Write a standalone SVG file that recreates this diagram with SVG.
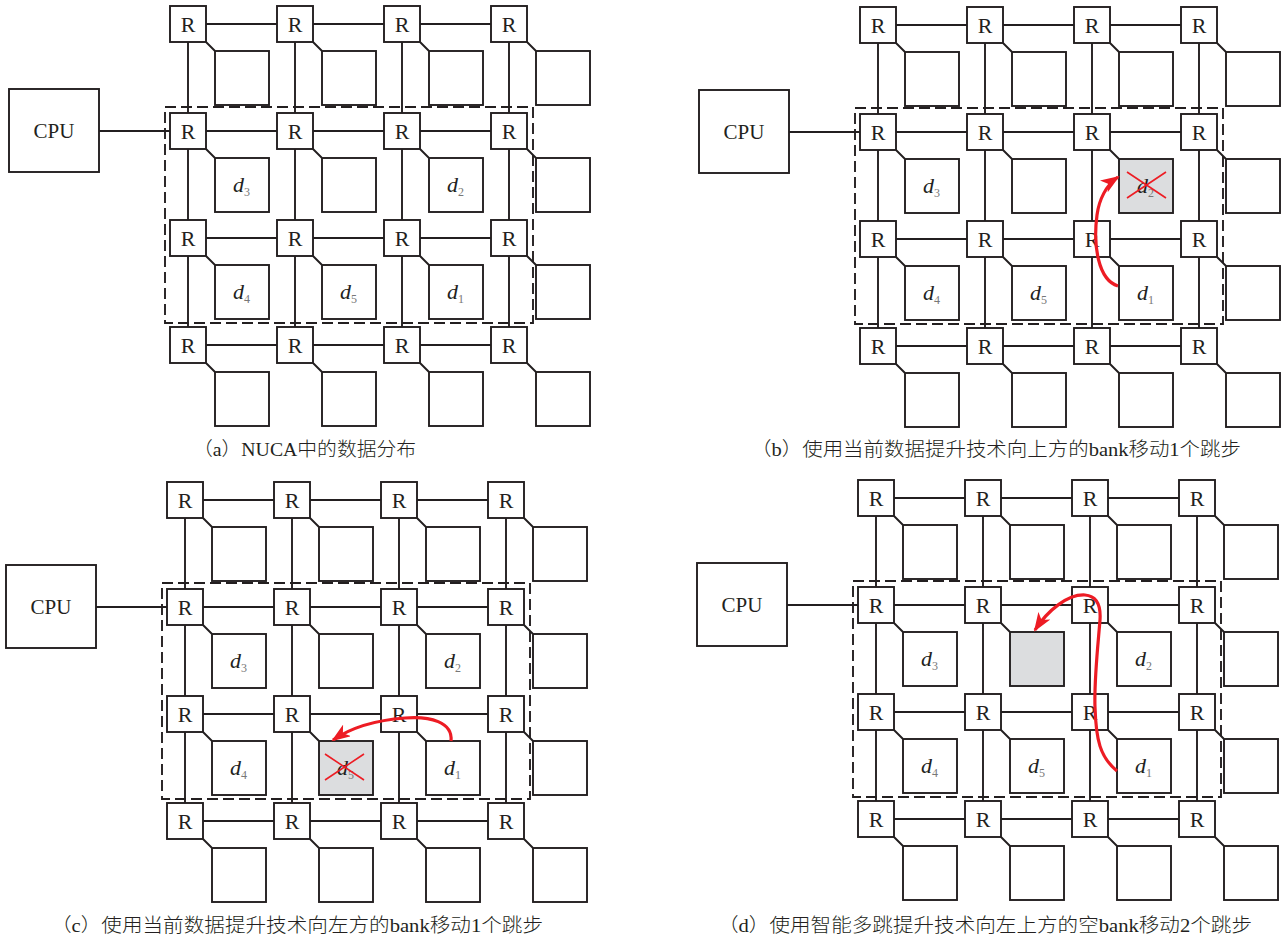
<svg xmlns="http://www.w3.org/2000/svg" width="1286" height="939" viewBox="0 0 1286 939">
<style>
.ln{stroke:#231F20;stroke-width:1.9;fill:none}
.r{fill:#fff;stroke:#231F20;stroke-width:1.9}
.b{fill:#fff;stroke:#231F20;stroke-width:1.9}
.g{fill:#DCDDDF;stroke:#231F20;stroke-width:1.9}
.dash{fill:none;stroke:#231F20;stroke-width:1.9;stroke-dasharray:11,5}
.rt{font-family:"Liberation Serif",serif;font-size:22px;text-anchor:middle;fill:#231F20}
.cpu{font-family:"Liberation Serif",serif;font-size:21px;text-anchor:middle;fill:#231F20}
.dl{font-family:"Liberation Serif",serif;font-style:italic;font-size:22px;fill:#231F20}
.sub{font-style:normal;font-size:12px;fill:#777}
.cap{font-family:"Liberation Serif","Noto Sans CJK SC",serif;font-size:19px;font-weight:300;fill:#231F20}
.arr{fill:none;stroke:#ED1C24;stroke-width:3.2;marker-end:url(#ah)}
.x{stroke:#ED1C24;stroke-width:1.6}
</style>
<defs>
<marker id="ah" markerUnits="userSpaceOnUse" markerWidth="20" markerHeight="14" refX="17" refY="7" orient="auto">
<path d="M0,0 L19,7 L0,14 L5,7 Z" fill="#ED1C24"/>
</marker>
</defs>
<rect width="1286" height="939" fill="#fff"/>

<g id="connectors">
<path class="ln" d="M188,24V345 M295,24V345 M402,24V345 M509,24V345 M188,24H509 M188,131H509 M188,238H509 M188,345H509 M99,131H170
M206,42L215,51 M313,42L322,51 M420,42L429,51 M527,42L536,51 M206,149L215,158 M313,149L322,158 M420,149L429,158 M527,149L536,158 M206,256L215,265 M313,256L322,265 M420,256L429,265 M527,256L536,265 M206,363L215,372 M313,363L322,372 M420,363L429,372 M527,363L536,372"/>
<path class="ln" d="M878,25V346 M985,25V346 M1092,25V346 M1199,25V346 M878,25H1199 M878,132H1199 M878,239H1199 M878,346H1199 M789,132H860
M896,43L905,52 M1003,43L1012,52 M1110,43L1119,52 M1217,43L1226,52 M896,150L905,159 M1003,150L1012,159 M1110,150L1119,159 M1217,150L1226,159 M896,257L905,266 M1003,257L1012,266 M1110,257L1119,266 M1217,257L1226,266 M896,364L905,373 M1003,364L1012,373 M1110,364L1119,373 M1217,364L1226,373"/>
<path class="ln" d="M185,500V821 M292,500V821 M399,500V821 M506,500V821 M185,500H506 M185,607H506 M185,714H506 M185,821H506 M96,607H167
M203,518L212,527 M310,518L319,527 M417,518L426,527 M524,518L533,527 M203,625L212,634 M310,625L319,634 M417,625L426,634 M524,625L533,634 M203,732L212,741 M310,732L319,741 M417,732L426,741 M524,732L533,741 M203,839L212,848 M310,839L319,848 M417,839L426,848 M524,839L533,848"/>
<path class="ln" d="M876,498V819 M983,498V819 M1090,498V819 M1197,498V819 M876,498H1197 M876,605H1197 M876,712H1197 M876,819H1197 M787,605H858
M894,516L903,525 M1001,516L1010,525 M1108,516L1117,525 M1215,516L1224,525 M894,623L903,632 M1001,623L1010,632 M1108,623L1117,632 M1215,623L1224,632 M894,730L903,739 M1001,730L1010,739 M1108,730L1117,739 M1215,730L1224,739 M894,837L903,846 M1001,837L1010,846 M1108,837L1117,846 M1215,837L1224,846"/>
</g>

<!-- Panel A -->
<g id="a-region"><rect class="dash" x="165" y="107" width="368" height="216"/></g>
<g id="a-cpu"><rect class="r" x="9" y="89" width="90" height="83"/><text class="cpu" x="54" y="138">CPU</text></g>
<g id="a-r11"><rect class="r" x="170" y="6" width="36" height="36"/><text class="rt" x="188" y="31.5">R</text></g>
<g id="a-r12"><rect class="r" x="277" y="6" width="36" height="36"/><text class="rt" x="295" y="31.5">R</text></g>
<g id="a-r13"><rect class="r" x="384" y="6" width="36" height="36"/><text class="rt" x="402" y="31.5">R</text></g>
<g id="a-r14"><rect class="r" x="491" y="6" width="36" height="36"/><text class="rt" x="509" y="31.5">R</text></g>
<g id="a-r21"><rect class="r" x="170" y="113" width="36" height="36"/><text class="rt" x="188" y="138.5">R</text></g>
<g id="a-r22"><rect class="r" x="277" y="113" width="36" height="36"/><text class="rt" x="295" y="138.5">R</text></g>
<g id="a-r23"><rect class="r" x="384" y="113" width="36" height="36"/><text class="rt" x="402" y="138.5">R</text></g>
<g id="a-r24"><rect class="r" x="491" y="113" width="36" height="36"/><text class="rt" x="509" y="138.5">R</text></g>
<g id="a-r31"><rect class="r" x="170" y="220" width="36" height="36"/><text class="rt" x="188" y="245.5">R</text></g>
<g id="a-r32"><rect class="r" x="277" y="220" width="36" height="36"/><text class="rt" x="295" y="245.5">R</text></g>
<g id="a-r33"><rect class="r" x="384" y="220" width="36" height="36"/><text class="rt" x="402" y="245.5">R</text></g>
<g id="a-r34"><rect class="r" x="491" y="220" width="36" height="36"/><text class="rt" x="509" y="245.5">R</text></g>
<g id="a-r41"><rect class="r" x="170" y="327" width="36" height="36"/><text class="rt" x="188" y="352.5">R</text></g>
<g id="a-r42"><rect class="r" x="277" y="327" width="36" height="36"/><text class="rt" x="295" y="352.5">R</text></g>
<g id="a-r43"><rect class="r" x="384" y="327" width="36" height="36"/><text class="rt" x="402" y="352.5">R</text></g>
<g id="a-r44"><rect class="r" x="491" y="327" width="36" height="36"/><text class="rt" x="509" y="352.5">R</text></g>
<g id="a-b11"><rect class="b" x="215" y="51" width="54" height="54"/></g>
<g id="a-b12"><rect class="b" x="322" y="51" width="54" height="54"/></g>
<g id="a-b13"><rect class="b" x="429" y="51" width="54" height="54"/></g>
<g id="a-b14"><rect class="b" x="536" y="51" width="54" height="54"/></g>
<g id="a-b21"><rect class="b" x="215" y="158" width="54" height="54"/><text class="dl" x="233" y="192">d<tspan class="sub" dy="4">3</tspan></text></g>
<g id="a-b22"><rect class="b" x="322" y="158" width="54" height="54"/></g>
<g id="a-b23"><rect class="b" x="429" y="158" width="54" height="54"/><text class="dl" x="447" y="192">d<tspan class="sub" dy="4">2</tspan></text></g>
<g id="a-b24"><rect class="b" x="536" y="158" width="54" height="54"/></g>
<g id="a-b31"><rect class="b" x="215" y="265" width="54" height="54"/><text class="dl" x="233" y="299">d<tspan class="sub" dy="4">4</tspan></text></g>
<g id="a-b32"><rect class="b" x="322" y="265" width="54" height="54"/><text class="dl" x="340" y="299">d<tspan class="sub" dy="4">5</tspan></text></g>
<g id="a-b33"><rect class="b" x="429" y="265" width="54" height="54"/><text class="dl" x="447" y="299">d<tspan class="sub" dy="4">1</tspan></text></g>
<g id="a-b34"><rect class="b" x="536" y="265" width="54" height="54"/></g>
<g id="a-b41"><rect class="b" x="215" y="372" width="54" height="54"/></g>
<g id="a-b42"><rect class="b" x="322" y="372" width="54" height="54"/></g>
<g id="a-b43"><rect class="b" x="429" y="372" width="54" height="54"/></g>
<g id="a-b44"><rect class="b" x="536" y="372" width="54" height="54"/></g>
<g id="a-caption"><text class="cap" x="193" y="456" textLength="223" lengthAdjust="spacingAndGlyphs">（a）NUCA中的数据分布</text></g>

<!-- Panel B -->
<g id="b-region"><rect class="dash" x="855" y="108" width="368" height="216"/></g>
<g id="b-cpu"><rect class="r" x="699" y="90" width="90" height="83"/><text class="cpu" x="744" y="139">CPU</text></g>
<g id="b-r11"><rect class="r" x="860" y="7" width="36" height="36"/><text class="rt" x="878" y="32.5">R</text></g>
<g id="b-r12"><rect class="r" x="967" y="7" width="36" height="36"/><text class="rt" x="985" y="32.5">R</text></g>
<g id="b-r13"><rect class="r" x="1074" y="7" width="36" height="36"/><text class="rt" x="1092" y="32.5">R</text></g>
<g id="b-r14"><rect class="r" x="1181" y="7" width="36" height="36"/><text class="rt" x="1199" y="32.5">R</text></g>
<g id="b-r21"><rect class="r" x="860" y="114" width="36" height="36"/><text class="rt" x="878" y="139.5">R</text></g>
<g id="b-r22"><rect class="r" x="967" y="114" width="36" height="36"/><text class="rt" x="985" y="139.5">R</text></g>
<g id="b-r23"><rect class="r" x="1074" y="114" width="36" height="36"/><text class="rt" x="1092" y="139.5">R</text></g>
<g id="b-r24"><rect class="r" x="1181" y="114" width="36" height="36"/><text class="rt" x="1199" y="139.5">R</text></g>
<g id="b-r31"><rect class="r" x="860" y="221" width="36" height="36"/><text class="rt" x="878" y="246.5">R</text></g>
<g id="b-r32"><rect class="r" x="967" y="221" width="36" height="36"/><text class="rt" x="985" y="246.5">R</text></g>
<g id="b-r33"><rect class="r" x="1074" y="221" width="36" height="36"/><text class="rt" x="1092" y="246.5">R</text></g>
<g id="b-r34"><rect class="r" x="1181" y="221" width="36" height="36"/><text class="rt" x="1199" y="246.5">R</text></g>
<g id="b-r41"><rect class="r" x="860" y="328" width="36" height="36"/><text class="rt" x="878" y="353.5">R</text></g>
<g id="b-r42"><rect class="r" x="967" y="328" width="36" height="36"/><text class="rt" x="985" y="353.5">R</text></g>
<g id="b-r43"><rect class="r" x="1074" y="328" width="36" height="36"/><text class="rt" x="1092" y="353.5">R</text></g>
<g id="b-r44"><rect class="r" x="1181" y="328" width="36" height="36"/><text class="rt" x="1199" y="353.5">R</text></g>
<g id="b-b11"><rect class="b" x="905" y="52" width="54" height="54"/></g>
<g id="b-b12"><rect class="b" x="1012" y="52" width="54" height="54"/></g>
<g id="b-b13"><rect class="b" x="1119" y="52" width="54" height="54"/></g>
<g id="b-b14"><rect class="b" x="1226" y="52" width="54" height="54"/></g>
<g id="b-b21"><rect class="b" x="905" y="159" width="54" height="54"/><text class="dl" x="923" y="193">d<tspan class="sub" dy="4">3</tspan></text></g>
<g id="b-b22"><rect class="b" x="1012" y="159" width="54" height="54"/></g>
<g id="b-b23"><rect class="g" x="1119" y="159" width="54" height="54"/><text class="dl" x="1137" y="193">d<tspan class="sub" dy="4">2</tspan></text><path class="x" d="M1127,172L1166,198 M1127,198L1166,172"/></g>
<g id="b-b24"><rect class="b" x="1226" y="159" width="54" height="54"/></g>
<g id="b-b31"><rect class="b" x="905" y="266" width="54" height="54"/><text class="dl" x="923" y="300">d<tspan class="sub" dy="4">4</tspan></text></g>
<g id="b-b32"><rect class="b" x="1012" y="266" width="54" height="54"/><text class="dl" x="1030" y="300">d<tspan class="sub" dy="4">5</tspan></text></g>
<g id="b-b33"><rect class="b" x="1119" y="266" width="54" height="54"/><text class="dl" x="1137" y="300">d<tspan class="sub" dy="4">1</tspan></text></g>
<g id="b-b34"><rect class="b" x="1226" y="266" width="54" height="54"/></g>
<g id="b-b41"><rect class="b" x="905" y="373" width="54" height="54"/></g>
<g id="b-b42"><rect class="b" x="1012" y="373" width="54" height="54"/></g>
<g id="b-b43"><rect class="b" x="1119" y="373" width="54" height="54"/></g>
<g id="b-b44"><rect class="b" x="1226" y="373" width="54" height="54"/></g>
<g id="b-caption"><text class="cap" x="751" y="456" textLength="490" lengthAdjust="spacingAndGlyphs">（b）使用当前数据提升技术向上方的bank移动1个跳步</text></g>

<!-- Panel C -->
<g id="c-region"><rect class="dash" x="162" y="583" width="368" height="216"/></g>
<g id="c-cpu"><rect class="r" x="6" y="565" width="90" height="83"/><text class="cpu" x="51" y="614">CPU</text></g>
<g id="c-r11"><rect class="r" x="167" y="482" width="36" height="36"/><text class="rt" x="185" y="507.5">R</text></g>
<g id="c-r12"><rect class="r" x="274" y="482" width="36" height="36"/><text class="rt" x="292" y="507.5">R</text></g>
<g id="c-r13"><rect class="r" x="381" y="482" width="36" height="36"/><text class="rt" x="399" y="507.5">R</text></g>
<g id="c-r14"><rect class="r" x="488" y="482" width="36" height="36"/><text class="rt" x="506" y="507.5">R</text></g>
<g id="c-r21"><rect class="r" x="167" y="589" width="36" height="36"/><text class="rt" x="185" y="614.5">R</text></g>
<g id="c-r22"><rect class="r" x="274" y="589" width="36" height="36"/><text class="rt" x="292" y="614.5">R</text></g>
<g id="c-r23"><rect class="r" x="381" y="589" width="36" height="36"/><text class="rt" x="399" y="614.5">R</text></g>
<g id="c-r24"><rect class="r" x="488" y="589" width="36" height="36"/><text class="rt" x="506" y="614.5">R</text></g>
<g id="c-r31"><rect class="r" x="167" y="696" width="36" height="36"/><text class="rt" x="185" y="721.5">R</text></g>
<g id="c-r32"><rect class="r" x="274" y="696" width="36" height="36"/><text class="rt" x="292" y="721.5">R</text></g>
<g id="c-r33"><rect class="r" x="381" y="696" width="36" height="36"/><text class="rt" x="399" y="721.5">R</text></g>
<g id="c-r34"><rect class="r" x="488" y="696" width="36" height="36"/><text class="rt" x="506" y="721.5">R</text></g>
<g id="c-r41"><rect class="r" x="167" y="803" width="36" height="36"/><text class="rt" x="185" y="828.5">R</text></g>
<g id="c-r42"><rect class="r" x="274" y="803" width="36" height="36"/><text class="rt" x="292" y="828.5">R</text></g>
<g id="c-r43"><rect class="r" x="381" y="803" width="36" height="36"/><text class="rt" x="399" y="828.5">R</text></g>
<g id="c-r44"><rect class="r" x="488" y="803" width="36" height="36"/><text class="rt" x="506" y="828.5">R</text></g>
<g id="c-b11"><rect class="b" x="212" y="527" width="54" height="54"/></g>
<g id="c-b12"><rect class="b" x="319" y="527" width="54" height="54"/></g>
<g id="c-b13"><rect class="b" x="426" y="527" width="54" height="54"/></g>
<g id="c-b14"><rect class="b" x="533" y="527" width="54" height="54"/></g>
<g id="c-b21"><rect class="b" x="212" y="634" width="54" height="54"/><text class="dl" x="230" y="668">d<tspan class="sub" dy="4">3</tspan></text></g>
<g id="c-b22"><rect class="b" x="319" y="634" width="54" height="54"/></g>
<g id="c-b23"><rect class="b" x="426" y="634" width="54" height="54"/><text class="dl" x="444" y="668">d<tspan class="sub" dy="4">2</tspan></text></g>
<g id="c-b24"><rect class="b" x="533" y="634" width="54" height="54"/></g>
<g id="c-b31"><rect class="b" x="212" y="741" width="54" height="54"/><text class="dl" x="230" y="775">d<tspan class="sub" dy="4">4</tspan></text></g>
<g id="c-b32"><rect class="g" x="319" y="741" width="54" height="54"/><text class="dl" x="337" y="775">d<tspan class="sub" dy="4">5</tspan></text><path class="x" d="M325,754L364,780 M325,780L364,754"/></g>
<g id="c-b33"><rect class="b" x="426" y="741" width="54" height="54"/><text class="dl" x="444" y="775">d<tspan class="sub" dy="4">1</tspan></text></g>
<g id="c-b34"><rect class="b" x="533" y="741" width="54" height="54"/></g>
<g id="c-b41"><rect class="b" x="212" y="848" width="54" height="54"/></g>
<g id="c-b42"><rect class="b" x="319" y="848" width="54" height="54"/></g>
<g id="c-b43"><rect class="b" x="426" y="848" width="54" height="54"/></g>
<g id="c-b44"><rect class="b" x="533" y="848" width="54" height="54"/></g>
<g id="c-caption"><text class="cap" x="51" y="932" textLength="492" lengthAdjust="spacingAndGlyphs">（c）使用当前数据提升技术向左方的bank移动1个跳步</text></g>

<!-- Panel D -->
<g id="d-region"><rect class="dash" x="853" y="581" width="368" height="216"/></g>
<g id="d-cpu"><rect class="r" x="697" y="563" width="90" height="83"/><text class="cpu" x="742" y="612">CPU</text></g>
<g id="d-r11"><rect class="r" x="858" y="480" width="36" height="36"/><text class="rt" x="876" y="505.5">R</text></g>
<g id="d-r12"><rect class="r" x="965" y="480" width="36" height="36"/><text class="rt" x="983" y="505.5">R</text></g>
<g id="d-r13"><rect class="r" x="1072" y="480" width="36" height="36"/><text class="rt" x="1090" y="505.5">R</text></g>
<g id="d-r14"><rect class="r" x="1179" y="480" width="36" height="36"/><text class="rt" x="1197" y="505.5">R</text></g>
<g id="d-r21"><rect class="r" x="858" y="587" width="36" height="36"/><text class="rt" x="876" y="612.5">R</text></g>
<g id="d-r22"><rect class="r" x="965" y="587" width="36" height="36"/><text class="rt" x="983" y="612.5">R</text></g>
<g id="d-r23"><rect class="r" x="1072" y="587" width="36" height="36"/><text class="rt" x="1090" y="612.5">R</text></g>
<g id="d-r24"><rect class="r" x="1179" y="587" width="36" height="36"/><text class="rt" x="1197" y="612.5">R</text></g>
<g id="d-r31"><rect class="r" x="858" y="694" width="36" height="36"/><text class="rt" x="876" y="719.5">R</text></g>
<g id="d-r32"><rect class="r" x="965" y="694" width="36" height="36"/><text class="rt" x="983" y="719.5">R</text></g>
<g id="d-r33"><rect class="r" x="1072" y="694" width="36" height="36"/><text class="rt" x="1090" y="719.5">R</text></g>
<g id="d-r34"><rect class="r" x="1179" y="694" width="36" height="36"/><text class="rt" x="1197" y="719.5">R</text></g>
<g id="d-r41"><rect class="r" x="858" y="801" width="36" height="36"/><text class="rt" x="876" y="826.5">R</text></g>
<g id="d-r42"><rect class="r" x="965" y="801" width="36" height="36"/><text class="rt" x="983" y="826.5">R</text></g>
<g id="d-r43"><rect class="r" x="1072" y="801" width="36" height="36"/><text class="rt" x="1090" y="826.5">R</text></g>
<g id="d-r44"><rect class="r" x="1179" y="801" width="36" height="36"/><text class="rt" x="1197" y="826.5">R</text></g>
<g id="d-b11"><rect class="b" x="903" y="525" width="54" height="54"/></g>
<g id="d-b12"><rect class="b" x="1010" y="525" width="54" height="54"/></g>
<g id="d-b13"><rect class="b" x="1117" y="525" width="54" height="54"/></g>
<g id="d-b14"><rect class="b" x="1224" y="525" width="54" height="54"/></g>
<g id="d-b21"><rect class="b" x="903" y="632" width="54" height="54"/><text class="dl" x="921" y="666">d<tspan class="sub" dy="4">3</tspan></text></g>
<g id="d-b22"><rect class="g" x="1010" y="632" width="54" height="54"/></g>
<g id="d-b23"><rect class="b" x="1117" y="632" width="54" height="54"/><text class="dl" x="1135" y="666">d<tspan class="sub" dy="4">2</tspan></text></g>
<g id="d-b24"><rect class="b" x="1224" y="632" width="54" height="54"/></g>
<g id="d-b31"><rect class="b" x="903" y="739" width="54" height="54"/><text class="dl" x="921" y="773">d<tspan class="sub" dy="4">4</tspan></text></g>
<g id="d-b32"><rect class="b" x="1010" y="739" width="54" height="54"/><text class="dl" x="1028" y="773">d<tspan class="sub" dy="4">5</tspan></text></g>
<g id="d-b33"><rect class="b" x="1117" y="739" width="54" height="54"/><text class="dl" x="1135" y="773">d<tspan class="sub" dy="4">1</tspan></text></g>
<g id="d-b34"><rect class="b" x="1224" y="739" width="54" height="54"/></g>
<g id="d-b41"><rect class="b" x="903" y="846" width="54" height="54"/></g>
<g id="d-b42"><rect class="b" x="1010" y="846" width="54" height="54"/></g>
<g id="d-b43"><rect class="b" x="1117" y="846" width="54" height="54"/></g>
<g id="d-b44"><rect class="b" x="1224" y="846" width="54" height="54"/></g>
<g id="d-caption"><text class="cap" x="718" y="932" textLength="534" lengthAdjust="spacingAndGlyphs">（d）使用智能多跳提升技术向左上方的空bank移动2个跳步</text></g>

<g id="migration-arrows">
<path class="arr" d="M1118,286 C1098,280 1093,245 1097,215 C1099,200 1106,185 1118,177"/>
<path class="arr" d="M451,741 C453,722 430,716 405,718 C378,720 352,727 333,740"/>
<path class="arr" d="M1117,771 C1100,757 1096,740 1095,707 C1094,680 1098,645 1100,620 C1101,605 1097,596 1085,595 C1068,594 1048,610 1035,630"/>
</g>
</svg>
